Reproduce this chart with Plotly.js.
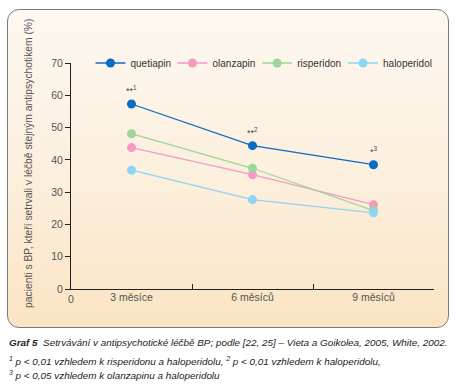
<!DOCTYPE html>
<html><head><meta charset="utf-8">
<script src="https://cdn.plot.ly/plotly-3.0.1.min.js"></script>
<style>
html,body{margin:0;padding:0;background:#fff;}
#wrap{position:relative;width:456px;height:389px;}
#panel{position:absolute;left:7px;top:9px;width:440px;height:317px;border:1px solid #7a7a7a;border-radius:12px;background:linear-gradient(to bottom,#fdf8f1 0%,#fcefdc 55%,#fbe4c4 100%);}
#chart{position:absolute;left:0;top:0;width:456px;height:389px;}
</style></head>
<body><div id="wrap"><div id="panel"></div><div id="chart"></div></div>
<script>
const categories = ['3 měsíce', '6 měsíců', '9 měsíců'];
const seriesNames = ['quetiapin', 'olanzapin', 'risperidon', 'haloperidol'];
const quetiapin = [57.3, 44.4, 38.5];
const olanzapin = [43.8, 35.4, 26.1];
const risperidon = [48.1, 37.4, 24.3];
const haloperidol = [36.8, 27.7, 23.6];
const colors = ['#0b6cc3', '#f49ac3', '#9dd59c', '#8dd4f6'];
const sigLabels = ['**<sup>1</sup>', '**<sup>2</sup>', '*<sup>3</sup>'];
const yTicks = [0, 10, 20, 30, 40, 50, 60, 70];

const values = [quetiapin, olanzapin, risperidon, haloperidol];
const xs = categories.map((c, i) => i + 0.5);
const legendIds = ['legend', 'legend2', 'legend3', 'legend4'];

const traces = values.map((v, k) => ({
  type: 'scatter', mode: 'lines+markers', name: seriesNames[k],
  x: xs, y: v, legend: legendIds[k],
  line: {color: colors[k], width: 1.3},
  marker: {color: colors[k], size: 9},
  xaxis: 'x', yaxis: 'y'
}));
traces.push({type:'scatter', x: xs, y: [null,null,null], xaxis:'x2', yaxis:'y', showlegend:false, hoverinfo:'skip'});

const annotations = sigLabels.map((t, i) => ({
  x: xs[i], y: quetiapin[i], xref: 'x', yref: 'y', text: t, showarrow: false,
  yshift: 14, font: {family: 'Liberation Sans, Arial', size: 9, color: '#444'}
}));
annotations.push({
  xref:'paper', yref:'paper', x:-0.119, y:0.557, xanchor:'center', yanchor:'middle', textangle:-90, showarrow:false,
  text:'pacienti s BP, kteří setrvali v léčbě stejným antipsychotikem (%)',
  font:{family:'Liberation Sans, Arial', size:10.3, color:'#555'}
});
const capFont = {family:'Liberation Sans, Arial', size:9.9, color:'#222'};
annotations.push({xref:'paper', yref:'paper', x:-0.176, y:-0.235, xanchor:'left', yanchor:'middle', showarrow:false, align:'left',
  text:'<b><i>Graf 5</i></b>  <i>Setrvávání v antipsychotické léčbě BP; podle [22, 25] – Vieta a Goikolea, 2005, White, 2002.</i>', font:capFont});
annotations.push({xref:'paper', yref:'paper', x:-0.176, y:-0.32, xanchor:'left', yanchor:'middle', showarrow:false, align:'left',
  text:'<i><sup>1</sup> p &lt; 0,01 vzhledem k risperidonu a haloperidolu, <sup>2</sup> p &lt; 0,01 vzhledem k haloperidolu,</i>', font:capFont});
annotations.push({xref:'paper', yref:'paper', x:-0.176, y:-0.382, xanchor:'left', yanchor:'middle', showarrow:false, align:'left',
  text:'<i><sup>3</sup> p &lt; 0,05 vzhledem k olanzapinu a haloperidolu</i>', font:capFont});

const legBase = {orientation: 'h', y: 1.0, yanchor: 'middle', bgcolor: 'rgba(0,0,0,0)',
  font: {size: 10, color: '#333'}, itemwidth: 30};

const layout = {
  width: 456, height: 389,
  margin: {l: 71, r: 22, t: 63, b: 100},
  paper_bgcolor: 'rgba(0,0,0,0)', plot_bgcolor: 'rgba(0,0,0,0)',
  font: {family: 'Liberation Sans, Arial', size: 10.5, color: '#555'},
  showlegend: true,
  legend: Object.assign({}, legBase, {x: 0.0537, xanchor: 'left'}),
  legend2: Object.assign({}, legBase, {x: 0.2796, xanchor: 'left'}),
  legend3: Object.assign({}, legBase, {x: 0.5130, xanchor: 'left'}),
  legend4: Object.assign({}, legBase, {x: 1.0083, xanchor: 'right'}),
  xaxis: {range: [0, 3], tickvals: [0, 1, 2, 3], ticktext: ['0', '', '', ''],
    ticks: 'inside', ticklen: 5, tickcolor: '#222', showline: true, linecolor: '#222', linewidth: 1,
    showgrid: false, zeroline: false, fixedrange: true, tickfont: {size: 10.5, color: '#555'}},
  xaxis2: {overlaying: 'x', side: 'bottom', range: [0, 3], tickvals: xs, ticktext: categories,
    ticks: '', showline: false, showgrid: false, zeroline: false, tickfont: {size: 10.5, color: '#555'}},
  yaxis: {range: [0, 70], tickvals: yTicks, ticks: 'outside', ticklen: 5, tickcolor: '#222',
    showline: true, linecolor: '#222', linewidth: 1, showgrid: false, zeroline: false,
    tickfont: {size: 10.5, color: '#555'}},
  annotations: annotations
};
Plotly.newPlot('chart', traces, layout, {displayModeBar: false, staticPlot: true});
</script></body></html>
